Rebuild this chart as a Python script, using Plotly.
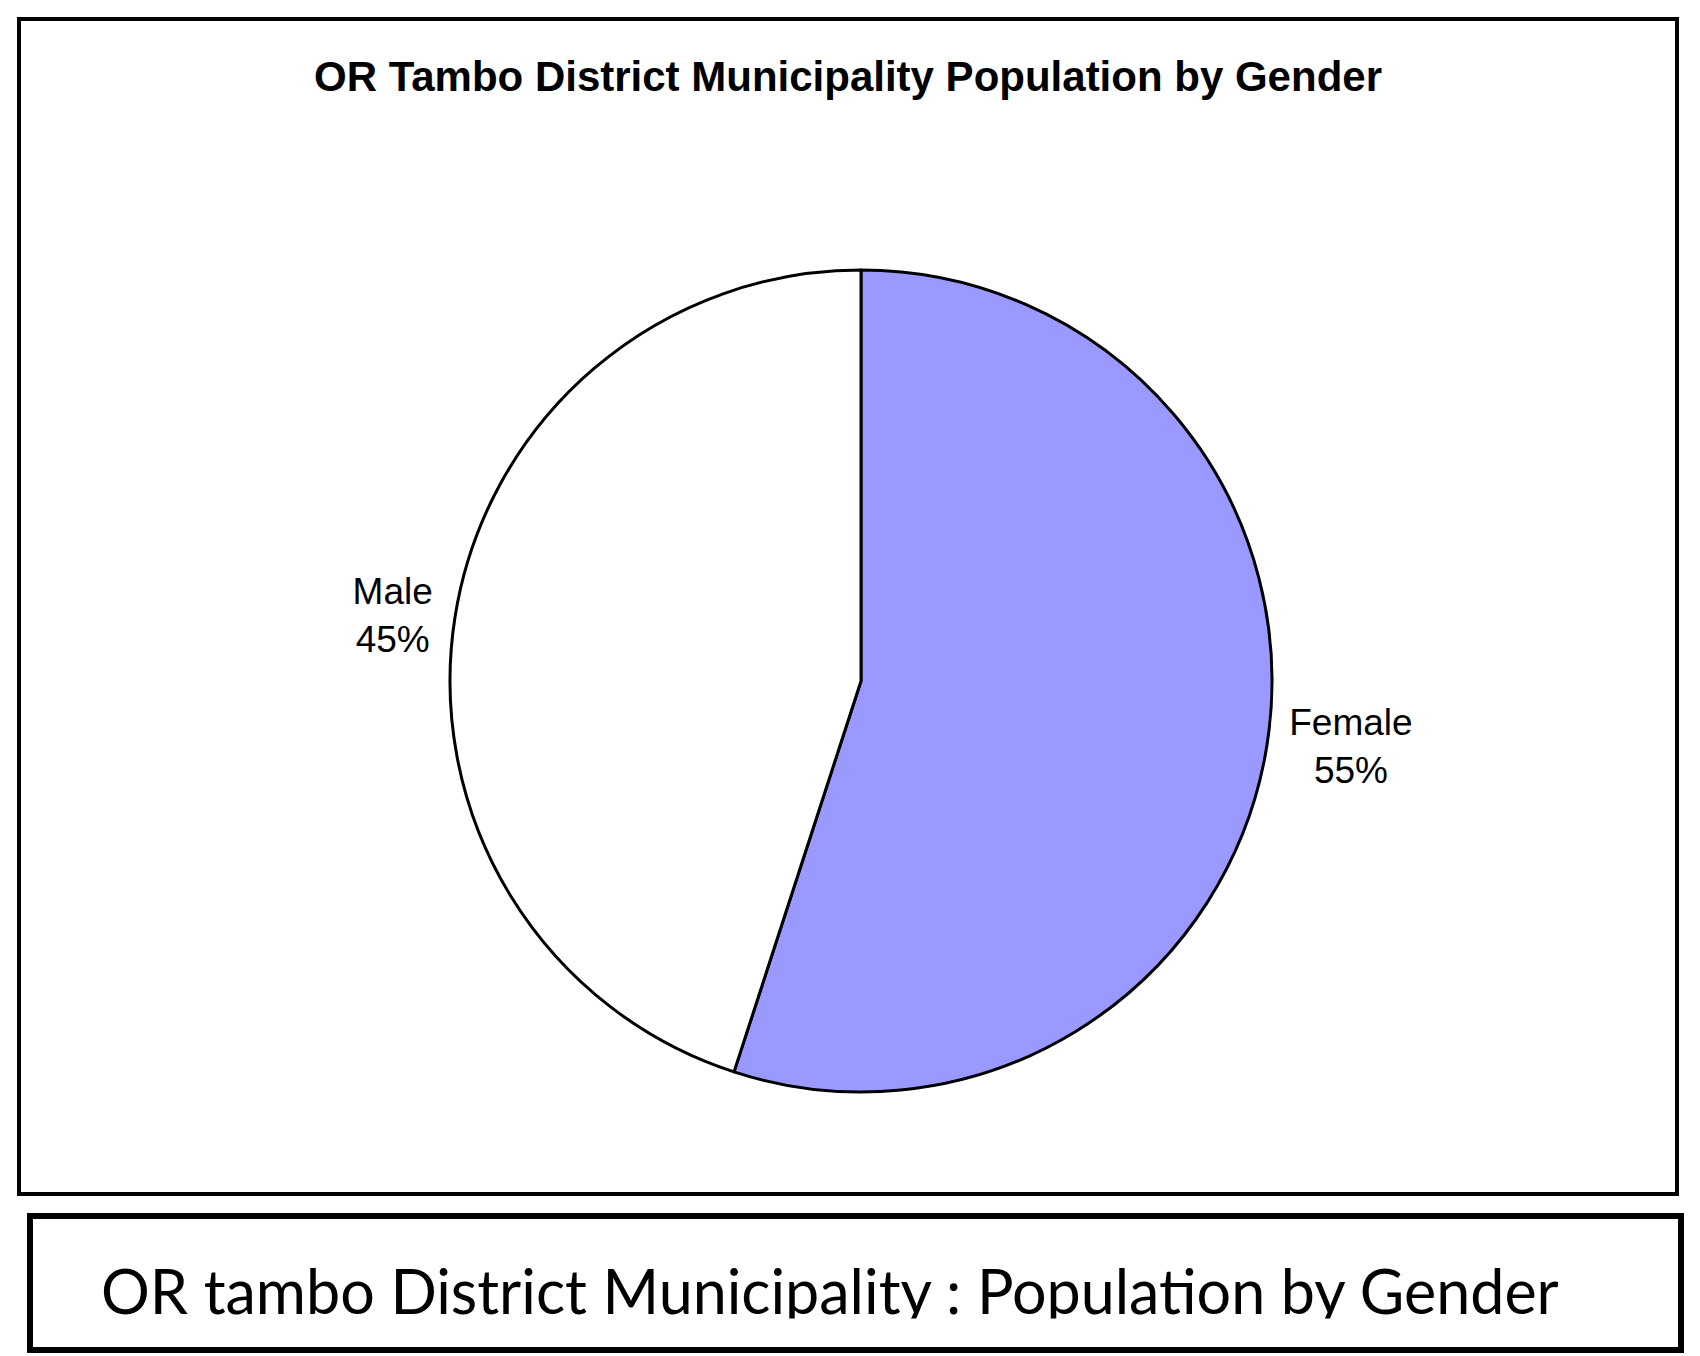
import plotly.graph_objects as go

categories = ["Female", "Male"]
values = [55, 45]
colors = ["#9999FF", "#FFFFFF"]

chart_title = "OR Tambo District Municipality Population by Gender"
caption = "OR tambo District Municipality : Population by Gender"

W, H = 1700, 1356

fig = go.Figure()
fig.add_trace(go.Pie(
    labels=categories,
    values=values,
    sort=False,
    direction="clockwise",
    rotation=0,
    marker=dict(colors=colors, line=dict(color="#000000", width=3)),
    textinfo="label+percent",
    texttemplate="%{label}<br>%{percent:.0%}",
    textposition="outside",
    textfont=dict(family="Liberation Sans", size=37, color="#000000"),
    domain=dict(x=[(861 - 412) / W, (861 + 412) / W], y=[(H - 1092) / H, (H - 270) / H]),
    showlegend=False,
    hoverinfo="label+percent",
))

shapes = [
    dict(type="rect", xref="paper", yref="paper",
         x0=19 / W, x1=1677 / W, y0=1 - 1194 / H, y1=1 - 19 / H,
         line=dict(color="#000000", width=4), fillcolor="rgba(0,0,0,0)"),
    dict(type="rect", xref="paper", yref="paper",
         x0=30 / W, x1=1681 / W, y0=1 - 1350 / H, y1=1 - 1216 / H,
         line=dict(color="#000000", width=6), fillcolor="rgba(0,0,0,0)"),
]

annotations = [
    dict(text=chart_title, xref="paper", yref="paper", x=848 / W, y=1 - 76 / H,
         xanchor="center", yanchor="middle", showarrow=False,
         font=dict(family="Liberation Sans", size=42, color="#000000", weight="bold")),
    dict(text=caption, xref="paper", yref="paper", x=(94 + 1565) / 2 / W, y=1 - 1290 / H,
         xanchor="center", yanchor="middle", showarrow=False,
         font=dict(family="Lato", size=61, color="#000000")),
    # the caption's descenders are cut off in the source image
    dict(text=" ", xref="paper", yref="paper", x=(94 + 1565) / 2 / W, y=1 - 1318 / H,
         xanchor="center", yanchor="top", showarrow=False, width=1500, height=24,
         bgcolor="#FFFFFF", font=dict(size=10)),
]

fig.update_layout(
    width=W, height=H,
    margin=dict(l=0, r=0, t=0, b=0),
    paper_bgcolor="#FFFFFF",
    plot_bgcolor="#FFFFFF",
    shapes=shapes,
    annotations=annotations,
)

fig.write_html("out.html")
